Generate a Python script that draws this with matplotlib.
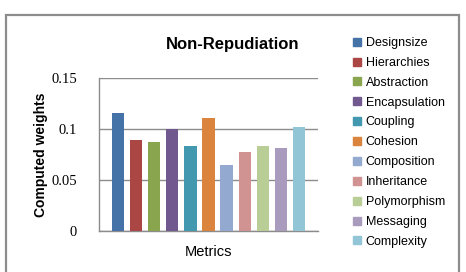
import numpy as np
import matplotlib.pyplot as plt
from matplotlib.patches import Rectangle
from matplotlib.lines import Line2D

# Metrics and their computed weights for Non-Repudiation
metrics = ['Designsize', 'Hierarchies', 'Abstraction', 'Encapsulation', 'Coupling',
           'Cohesion', 'Composition', 'Inheritance', 'Polymorphism', 'Messaging',
           'Complexity']
weights = [0.116, 0.089, 0.087, 0.100, 0.0835, 0.111, 0.065, 0.0775, 0.0835, 0.0815, 0.102]
colors = ['#4572A7', '#AA4643', '#89A54E', '#71588F', '#4198AF', '#DB843D',
          '#93A9CF', '#D19392', '#B9CD96', '#A99BBD', '#92C5D6']
yticks = [0, 0.05, 0.1, 0.15]
ytick_labels = ['0', '0.05', '0.1', '0.15']

W, H = 466, 272
fig = plt.figure(figsize=(W / 100, H / 100), dpi=100)

# outer chart border (bottom edge runs off the picture)
fig.patches.append(Rectangle((6 / W, -0.1), 453 / W, 1.1 - 15 / H,
                             transform=fig.transFigure, fill=False,
                             edgecolor='#8c8c8c', linewidth=1.6))

ax = fig.add_axes([99 / W, 41 / H, 219 / W, 153 / H])
x = np.arange(len(metrics))
ax.bar(x, weights, width=0.67, color=colors, zorder=3)

ax.set_xlim(-1.07, len(metrics) - 1 + 1.07)
ax.set_ylim(0, 0.15)
ax.set_yticks(yticks)
ax.set_yticklabels(ytick_labels, family='Liberation Serif', fontsize=10.5)
ax.set_xticks([])
ax.tick_params(axis='y', length=0, pad=16)
ax.yaxis.grid(True, color='#8c8c8c', linewidth=1, zorder=0)

for side in ['top', 'right']:
    ax.spines[side].set_visible(False)
for side in ['left', 'bottom']:
    ax.spines[side].set_color('#8c8c8c')
    ax.spines[side].set_linewidth(1)

fig.text(233 / W, 1 - 44 / H, 'Non-Repudiation', ha='center', va='center',
         fontsize=12, fontweight='bold', family='Liberation Sans')
fig.text(41 / W, 1 - 155 / H, 'Computed weights', ha='center', va='center',
         rotation=90, fontsize=10, fontweight='bold', family='Liberation Sans')
fig.text(208 / W, 1 - 252 / H, 'Metrics', ha='center', va='center',
         fontsize=10.5, family='Liberation Sans')

handles = [Line2D([], [], marker='s', linestyle='none', markersize=6,
                  markerfacecolor=c, markeredgecolor=c) for c in colors]
fig.legend(handles, metrics, loc='upper left', bbox_to_anchor=(347 / W, 1 - 32 / H),
           frameon=False, handlelength=0.8, handletextpad=0.3,
           labelspacing=0.63, borderaxespad=0,
           prop={'family': 'Liberation Sans', 'size': 9})

fig.savefig('out.png', dpi=100)
